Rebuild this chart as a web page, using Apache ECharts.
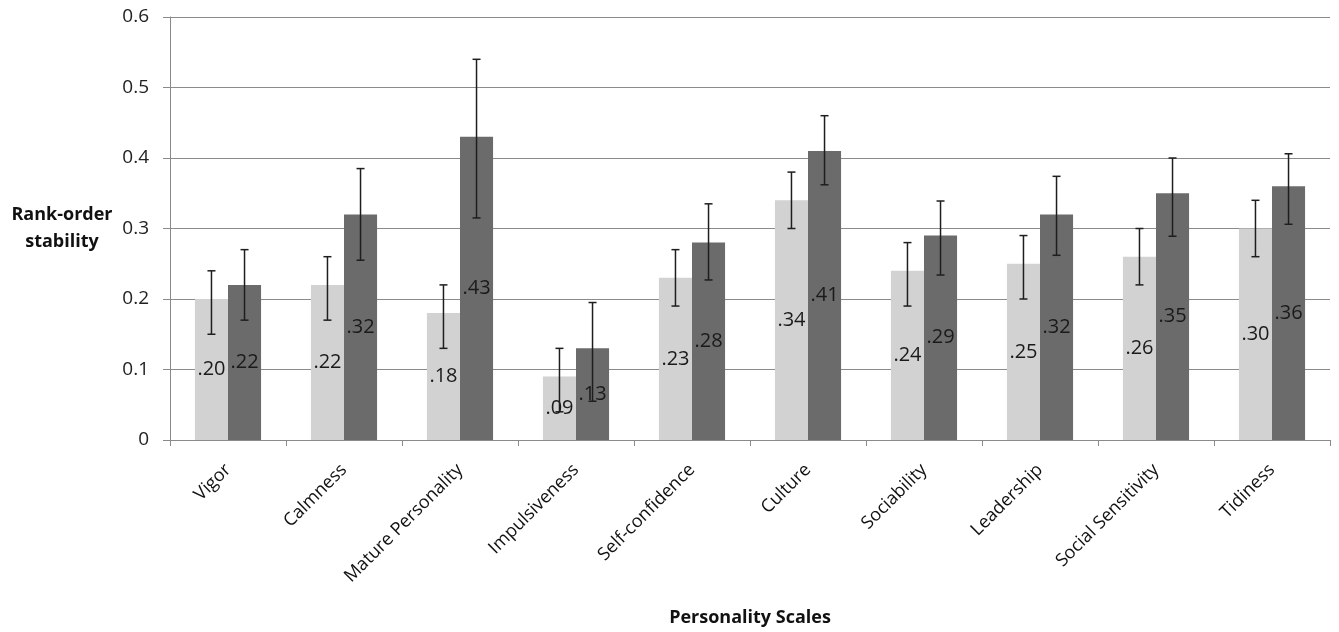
<!DOCTYPE html>
<html><head><meta charset="utf-8">
<script src="https://cdn.jsdelivr.net/npm/echarts@6/dist/echarts.min.js"></script>
<style>html,body{margin:0;padding:0;background:#fff}#c{width:1339px;height:632px}</style>
</head><body><div id="c"></div>
<script>
var categories = ['Vigor','Calmness','Mature Personality','Impulsiveness','Self-confidence','Culture','Sociability','Leadership','Social Sensitivity','Tidiness'];
var lightValues = [0.20,0.22,0.18,0.09,0.23,0.34,0.24,0.25,0.26,0.30];
var darkValues  = [0.22,0.32,0.43,0.13,0.28,0.41,0.29,0.32,0.35,0.36];
var lightLow  = [0.15,0.17,0.13,0.04,0.19,0.30,0.19,0.20,0.22,0.26];
var lightHigh = [0.24,0.26,0.22,0.13,0.27,0.38,0.28,0.29,0.30,0.34];
var darkLow   = [0.17,0.255,0.315,0.055,0.227,0.362,0.234,0.262,0.289,0.306];
var darkHigh  = [0.27,0.385,0.54,0.195,0.335,0.46,0.339,0.374,0.40,0.406];
var yTicks = [0,0.1,0.2,0.3,0.4,0.5,0.6];

var FONT = '"Open Sans", "Noto Sans", sans-serif';
var CAT_GAP = 0.43;

function errSeries(low, high, side){
  return {
    type:'custom', z:5,
    data: low.map(function(l,i){return [i,l,high[i]];}),
    renderItem: function(params, api){
      var i = api.value(0);
      var band = api.size([1,0])[0];
      var bw = band*(1-CAT_GAP)/2;
      var p1 = api.coord([i, api.value(1)]);
      var p2 = api.coord([i, api.value(2)]);
      var x = p1[0] + side*bw/2;
      var cap = 4;
      var st = {stroke:'#1e1e1e', lineWidth:1.5};
      return {type:'group', children:[
        {type:'line', shape:{x1:x,y1:p1[1],x2:x,y2:p2[1]}, style:st},
        {type:'line', shape:{x1:x-cap,y1:p1[1],x2:x+cap,y2:p1[1]}, style:st},
        {type:'line', shape:{x1:x-cap,y1:p2[1],x2:x+cap,y2:p2[1]}, style:st}
      ]};
    }
  };
}
function fmt(v){ return v.toFixed(2).replace(/^0/,''); }
var labelCfg = {show:true, position:'inside', color:'#1a1a1a', fontSize:20, fontFamily:FONT,
  formatter:function(p){return fmt(p.value);}};

var chart = echarts.init(document.getElementById('c'), null, {renderer:'canvas'});
chart.setOption({
  animation:false,
  backgroundColor:'#fff',
  grid:{left:170, right:9, top:17, bottom:192, containLabel:false},
  xAxis:{
    type:'category', data:categories,
    name:'Personality Scales', nameLocation:'middle', nameGap:169,
    nameTextStyle:{fontFamily:FONT, fontSize:18, fontWeight:'bold', color:'#111'},
    axisLine:{lineStyle:{color:'#8a8a8a', width:1}},
    axisTick:{show:true, length:6, lineStyle:{color:'#8a8a8a'}},
    axisLabel:{rotate:45, fontFamily:FONT, fontSize:18, color:'#111', margin:27, interval:0}
  },
  yAxis:{
    type:'value', min:0, max:0.6, interval:0.1,
    name:'Rank-order\nstability', nameLocation:'middle', nameRotate:0, nameGap:108,
    nameTextStyle:{fontFamily:FONT, fontSize:18, fontWeight:'bold', color:'#111', align:'center', lineHeight:27},
    axisLine:{show:true, lineStyle:{color:'#8a8a8a', width:1}},
    axisTick:{show:true, length:7, lineStyle:{color:'#8a8a8a'}},
    splitLine:{lineStyle:{color:'#8a8a8a', width:1}},
    axisLabel:{fontFamily:FONT, fontSize:19, color:'#222', margin:21,
      formatter:function(v){ return yTicks.indexOf(Math.round(v*10)/10)>=0 ? String(Math.round(v*10)/10) : ''; }}
  },
  series:[
    {type:'bar', data:lightValues, barGap:'0%', barCategoryGap:(CAT_GAP*100)+'%', itemStyle:{color:'#d2d2d2'}, label:labelCfg},
    {type:'bar', data:darkValues, itemStyle:{color:'#6b6b6b'}, label:labelCfg},
    errSeries(lightLow, lightHigh, -1),
    errSeries(darkLow, darkHigh, 1)
  ]
});
</script></body></html>
